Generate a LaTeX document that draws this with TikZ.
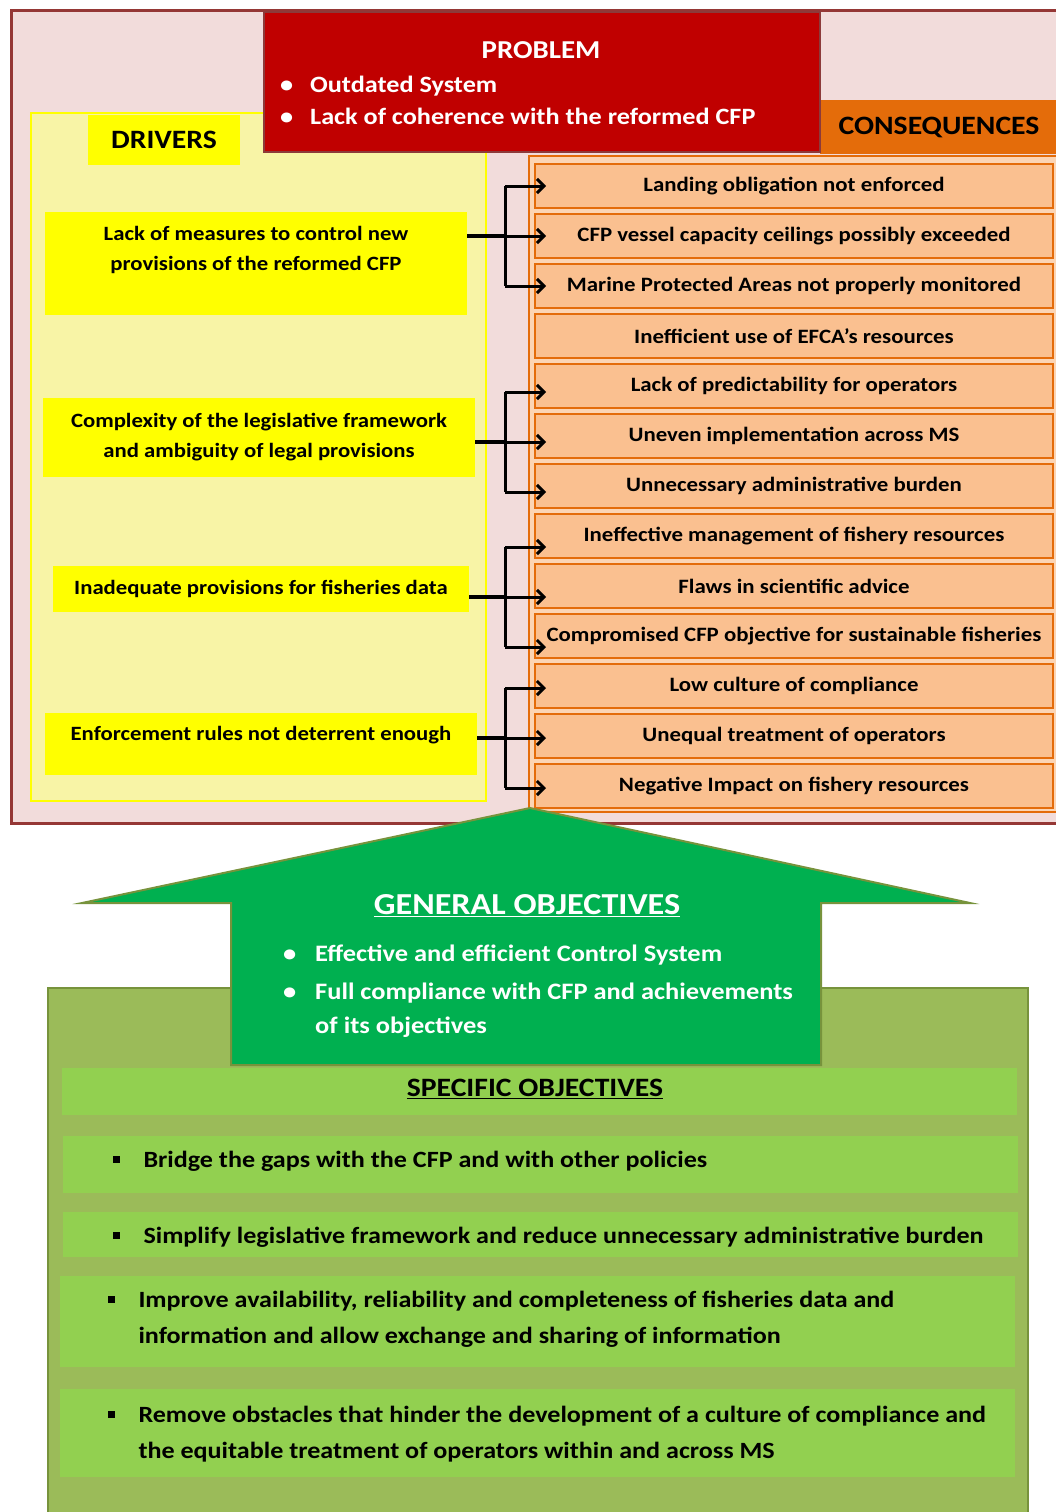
\documentclass[tikz,border=0pt]{standalone}
\usepackage{fontspec}
\setmainfont[FakeStretch=1.12]{Carlito}
\usetikzlibrary{arrows.meta}
\usetikzlibrary{positioning}

\definecolor{framered}{HTML}{953735}
\definecolor{framepink}{HTML}{F2DCDB}
\definecolor{probred}{HTML}{C00000}
\definecolor{probline}{HTML}{8C3A3A}
\definecolor{drvpanel}{HTML}{F8F4A6}
\definecolor{drvyellow}{HTML}{FFFF00}
\definecolor{conorange}{HTML}{E46C0A}
\definecolor{confill}{HTML}{FAC090}
\definecolor{conpanel}{HTML}{FCD5B4}
\definecolor{gogreen}{HTML}{00B050}
\definecolor{oliveline}{HTML}{77933C}
\definecolor{olivefill}{HTML}{9BBB59}
\definecolor{sogreen}{HTML}{92D050}

\newcommand{\sqbullet}{\rule[4pt]{7pt}{7pt}}
\newcommand{\probitem}[1]{\begin{tabular}{@{}p{30pt}@{}l@{}}\textbullet & #1\end{tabular}}
\newcommand{\goitem}[1]{\begin{tabular}{@{}p{32pt}@{}l@{}}\textbullet & #1\end{tabular}}
\newcommand{\soitem}[1]{\begin{tabular}{@{}p{31pt}@{}l@{}}\sqbullet & #1\end{tabular}}

\tikzset{
  hdr/.style={inner sep=0pt, font=\bfseries\fontsize{26.5pt}{30pt}\selectfont},
  probbox/.style={draw=probline, line width=2pt, fill=probred, minimum width=556pt, minimum height=140pt},
  probtext/.style={anchor=west, text=white, inner sep=0pt, font=\bfseries\fontsize{23.4pt}{28pt}\selectfont},
  drvbox/.style={fill=drvyellow, align=center, inner sep=0pt, font=\bfseries\fontsize{20.3pt}{30pt}\selectfont},
  conbox/.style={draw=conorange, line width=2.5pt, fill=confill, minimum width=518pt, minimum height=44pt,
    inner sep=0pt, outer sep=0pt, font=\bfseries\fontsize{20.4pt}{24pt}\selectfont},
  stemline/.style={line width=4pt},
  branch/.style={line width=3pt},
  gotext/.style={text=white, align=left, inner sep=0pt, font=\bfseries\fontsize{23.6pt}{34pt}\selectfont},
  sobox/.style={fill=sogreen, inner sep=0pt},
  sotext/.style={align=left, inner sep=0pt, font=\bfseries\fontsize{23.3pt}{36pt}\selectfont}
}

\begin{document}
\begin{tikzpicture}[x=1pt,y=-1pt,node distance=6pt]
\useasboundingbox (0,0) rectangle (1055,1512);

% top frame and panels
\draw[framered, line width=3pt, fill=framepink] (11,11) rectangle (1070,823);
\draw[drvyellow, line width=2pt, fill=drvpanel] (31,113) rectangle (486,801);
\draw[conorange, line width=2pt, fill=conpanel] (529,156) rectangle (1070,812);

% problem
\node[hdr, fill=conorange, minimum width=238pt, minimum height=54pt] (conhead) at (939,127) {CONSEQUENCES};
\node[probbox] (problem) at (542,82) {};
\node[hdr, text=white, font=\bfseries\fontsize{25.8pt}{30pt}\selectfont] (probtitle) at (541,50) {PROBLEM};
\node[probtext] (prob1) at (280,87) {\probitem{Outdated System}};
\node[probtext] (prob2) at (280,119) {\probitem{Lack of coherence with the reformed CFP}};

% drivers
\node[hdr, fill=drvyellow, minimum width=152pt, minimum height=50pt] (drvhead) at (164,140) {DRIVERS};
\node[drvbox, minimum width=422pt, minimum height=103pt, text depth=29pt] (d1) at (256,263)
  {Lack of measures to control new\\provisions of the reformed CFP};
\node[drvbox, minimum width=432pt, minimum height=79pt] (d2) at (259,437)
  {Complexity of the legislative framework\\and ambiguity of legal provisions};
\node[drvbox, minimum width=416pt, minimum height=46pt] (d3) at (261,589)
  {Inadequate provisions for fisheries data};
\node[drvbox, minimum width=432pt, minimum height=62pt, text depth=21pt] (d4) at (261,744)
  {Enforcement rules not deterrent enough};

% consequences
\node[conbox] (c1) at (794,186) {Landing obligation not enforced};
\node[conbox] (c2) [below=of c1] {CFP vessel capacity ceilings possibly exceeded};
\node[conbox] (c3) [below=of c2] {Marine Protected Areas not properly monitored};
\node[conbox] (c4) [below=of c3] {Inefficient use of EFCA's resources};
\node[conbox] (c5) [below=of c4] {Lack of predictability for operators};
\node[conbox] (c6) [below=of c5] {Uneven implementation across MS};
\node[conbox] (c7) [below=of c6] {Unnecessary administrative burden};
\node[conbox] (c8) [below=of c7] {Ineffective management of fishery resources};
\node[conbox] (c9) [below=of c8] {Flaws in scientific advice};
\node[conbox] (c10) [below=of c9] {Compromised CFP objective for sustainable fisheries};
\node[conbox] (c11) [below=of c10] {Low culture of compliance};
\node[conbox] (c12) [below=of c11] {Unequal treatment of operators};
\node[conbox] (c13) [below=of c12] {Negative Impact on fishery resources};

% driver -> consequences
\coordinate (trunk) at (505,0);
\foreach \d/\a/\b/\c/\s in {d1/c1/c2/c3/0pt, d2/c5/c6/c7/-6pt, d3/c8/c9/c10/-11pt, d4/c11/c12/c13/-2pt}{
  \coordinate (A) at ([yshift=\s]\a.west);
  \coordinate (B) at ([yshift=\s]\b.west);
  \coordinate (C) at ([yshift=\s]\c.west);
  \draw[stemline] (\d.east |- B) -- (B -| trunk);
  \draw[branch] (A -| trunk) -- (C -| trunk);
  \foreach \t in {A,B,C}
    \draw[branch, -{Straight Barb[length=7pt,width=14pt,line width=3pt]}, shorten >=-11pt] (\t -| trunk) -- (\t);
}

% objectives
\draw[oliveline, line width=2pt, fill=olivefill] (48,988) rectangle (1028,1530);
\draw[oliveline, line width=2pt, fill=gogreen] (530,808) -- (970,903) -- (821,903) -- (821,1065)
  -- (231,1065) -- (231,903) -- (82,903) -- cycle;
\node[gotext, font=\bfseries\fontsize{30.5pt}{34pt}\selectfont] (gotitle) at (527,906) {\underline{GENERAL OBJECTIVES}};
\node[gotext, anchor=west] (go1) at (283,955) {\goitem{Effective and efficient Control System}};
\node[gotext, anchor=west] (go2) at (283,1010) {\goitem{Full compliance with CFP and achievements\\ & of its objectives}};

\node[sobox, minimum width=955pt, minimum height=47pt] (sohead) at (539,1091) {};
\node[sotext, font=\bfseries\fontsize{26.5pt}{30pt}\selectfont] (sotitle) at (535,1089) {\underline{SPECIFIC OBJECTIVES}};
\node[sobox, minimum width=955pt, minimum height=57pt] (so1) at (540,1164) {};
\node[sobox, minimum width=955pt, minimum height=45pt] (so2) at (540,1234) {};
\node[sobox, minimum width=955pt, minimum height=91pt] (so3) at (537,1321) {};
\node[sobox, minimum width=955pt, minimum height=88pt] (so4) at (537,1433) {};
\node[sotext, anchor=west] (so1txt) at ([xshift=50pt,yshift=4pt]so1.west) {\soitem{Bridge the gaps with the CFP and with other policies}};
\node[sotext, anchor=west] (so2txt) at ([xshift=50pt,yshift=-2pt]so2.west) {\soitem{Simplify legislative framework and reduce unnecessary administrative burden}};
\node[sotext, anchor=west] (so3txt) at ([xshift=48pt,yshift=3pt]so3.west) {\soitem{Improve availability, reliability and completeness of fisheries data and\\ & information and allow exchange and sharing of information}};
\node[sotext, anchor=west] (so4txt) at ([xshift=48pt]so4.west) {\soitem{Remove obstacles that hinder the development of a culture of compliance and\\ & the equitable treatment of operators within and across MS}};
\end{tikzpicture}
\end{document}
